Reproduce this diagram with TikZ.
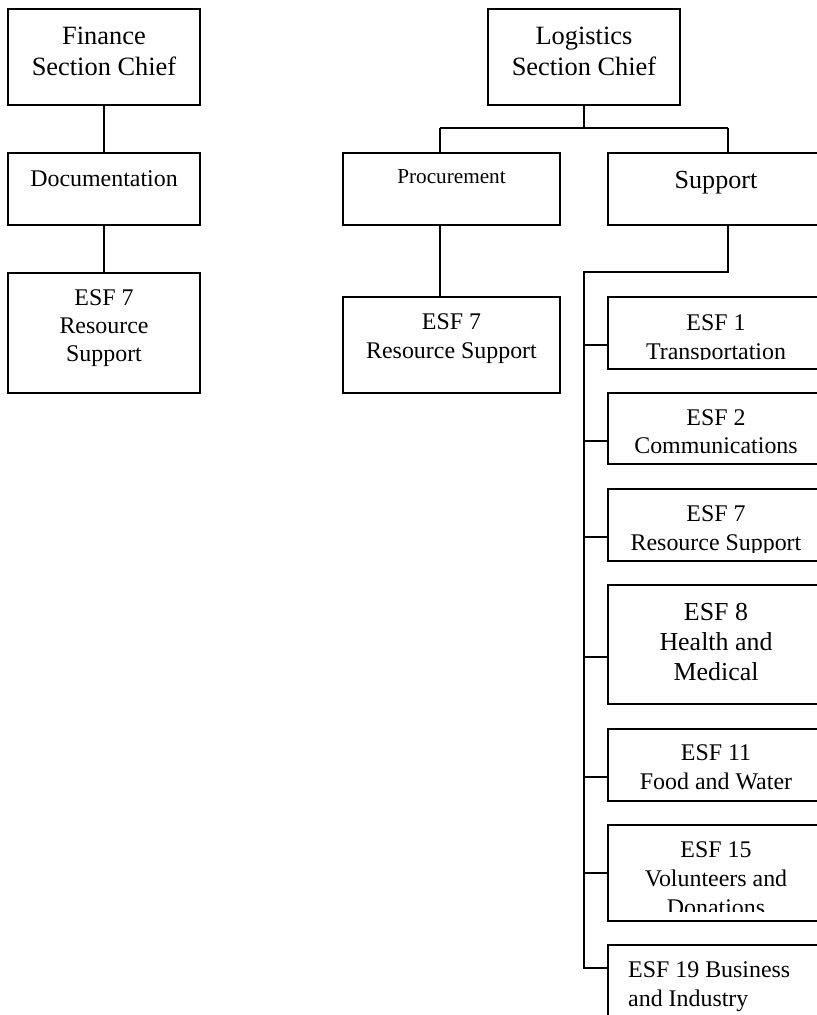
\documentclass[tikz,border=0pt]{standalone}
\usepackage{fontspec}
\setmainfont{Liberation Serif}
\begin{document}
\begin{tikzpicture}[x=1bp,y=-1bp,
  box/.style={draw,line width=2.3bp,rectangle,inner sep=0pt},
  lbl/.style={anchor=base,align=center,inner sep=0pt},
  conn/.style={line width=2.2bp},
  fbig/.style={font=\fontsize{26.5}{31}\selectfont},
  fmid/.style={font=\fontsize{24}{29}\selectfont},
  fesfe/.style={font=\fontsize{26}{30}\selectfont},
  fsmall/.style={font=\fontsize{21.3}{25}\selectfont}]
\clip (0,0) rectangle (817,1015);
% boxes
\node[box,minimum width=192bp,minimum height=96bp] (fin) at (104,57) {};
\node[box,minimum width=192bp,minimum height=72bp] (doc) at (104,189) {};
\node[box,minimum width=192bp,minimum height=120bp] (fesf) at (104,333) {};
\node[box,minimum width=192bp,minimum height=96bp] (log) at (584,57) {};
\node[box,minimum width=217bp,minimum height=72bp] (proc) at (451.5,189) {};
\node[box,minimum width=216bp,minimum height=72bp] (sup) at (716,189) {};
\node[box,minimum width=217bp,minimum height=96bp] (pesf) at (451.5,345) {};
\node[box,minimum width=216bp,minimum height=72bp] (e1) at (716,333) {};
\node[box,minimum width=216bp,minimum height=71bp] (e2) at (716,428.5) {};
\node[box,minimum width=216bp,minimum height=72bp] (e7) at (716,525) {};
\node[box,minimum width=216bp,minimum height=119bp] (e8) at (716,644.5) {};
\node[box,minimum width=216bp,minimum height=72bp] (e11) at (716,765) {};
\node[box,minimum width=216bp,minimum height=96bp] (e15) at (716,873) {};
\node[box,minimum width=216bp,minimum height=100bp] (e19) at (716,995) {};
% labels (base anchor = baseline of the last line)
\node[lbl,fbig] (t-fin) at (104,75) {Finance\\Section Chief};
\node[lbl,fmid] (t-doc) at (104,186) {Documentation};
\node[lbl,font=\fontsize{24}{28}\selectfont] (t-fesf) at (104,361) {ESF 7\\Resource\\Support};
\node[lbl,fbig] (t-log) at (584,75) {Logistics\\Section Chief};
\node[lbl,fsmall] (t-proc) at (451.5,183) {Procurement};
\node[lbl,font=\fontsize{26.2}{31}\selectfont] (t-sup) at (716,188) {Support};
\node[lbl,fmid] (t-pesf) at (451.5,358) {ESF 7\\Resource Support};
\begin{scope}
\clip (e1.north west) rectangle ([yshift=11bp]e1.south east);
\node[lbl,fmid] (t-e1) at (716,359) {ESF 1\\Transportation};
\end{scope}
\node[lbl,fmid,font=\fontsize{24}{28.5}\selectfont] (t-e2) at (716,453.5) {ESF 2\\Communications};
\begin{scope}
\clip (e7.north west) rectangle ([yshift=10bp]e7.south east);
\node[lbl,fmid] (t-e7) at (716,550) {ESF 7\\Resource Support};
\end{scope}
\node[lbl,fesfe] (t-e8) at (716,680) {ESF 8\\Health and\\Medical};
\node[lbl,fmid,font=\fontsize{24}{28.5}\selectfont] (t-e11) at (716,789) {ESF 11\\Food and Water};
\begin{scope}
\clip (e15.north west) rectangle ([yshift=11bp]e15.south east);
\node[lbl,fmid] (t-e15) at (716,915) {ESF 15\\Volunteers and\\Donations};
\end{scope}
\begin{scope}
\clip (e19.north west) rectangle (824,1013);
\node[lbl,fmid,align=left,anchor=base west] (t-e19) at (628,1006) {ESF 19 Business\\and Industry};
\end{scope}
% connectors
\coordinate (lj) at (584,128);
\coordinate (lpl) at (440,128);
\coordinate (lpr) at (728,128);
\coordinate (sd) at (728,272);
\coordinate (sp) at (584,272);
\coordinate (k1) at ([yshift=-12bp]e1.west);
\coordinate (k2) at ([yshift=-12.5bp]e2.west);
\coordinate (k7) at ([yshift=-12bp]e7.west);
\coordinate (k8) at ([yshift=-12.5bp]e8.west);
\coordinate (k11) at ([yshift=-12bp]e11.west);
\coordinate (k15) at (e15.west);
\coordinate (k19) at ([yshift=27bp]e19.west);
\draw[conn] (fin.south) -- (doc.north);
\draw[conn] (doc.south) -- (fesf.north);
\draw[conn] (log.south) -- (lj);
\draw[conn] (lpl) -- (lpr);
\draw[conn] (lpl) -- (proc.north -| lpl);
\draw[conn] (lpr) -- (sup.north -| lpr);
\draw[conn] (proc.south -| lpl) -- (pesf.north -| lpl);
\draw[conn] (sup.south -| sd) -- (sd) -- (sp) -- (k19 -| sp) -- (k19);
\foreach \k in {k1,k2,k7,k8,k11,k15}
  \draw[conn] (\k -| sp) -- (\k);
\end{tikzpicture}
\end{document}
